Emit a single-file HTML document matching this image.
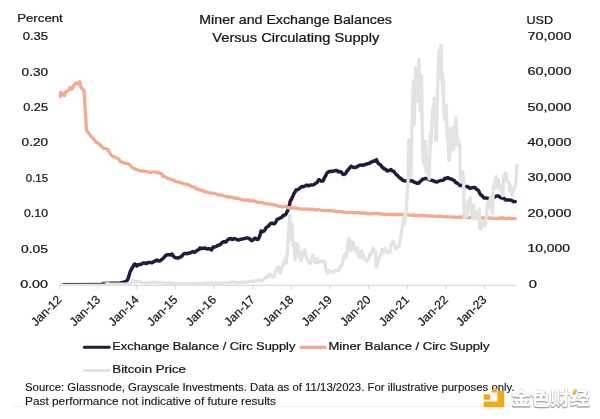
<!DOCTYPE html>
<html lang="en"><head><meta charset="utf-8"><title>Miner and Exchange Balances Versus Circulating Supply</title>
<style>html,body{margin:0;padding:0;background:#fff;}body{width:600px;height:419px;overflow:hidden;}svg{display:block;}text{font-family:"Liberation Sans",Arial,sans-serif;fill:#161616;stroke:#161616;stroke-width:0.24px;}.s{stroke-width:0.12px;}.x{stroke-width:0.2px;}.wm{font-family:"Liberation Sans","Noto Sans CJK SC",sans-serif;font-weight:bold;}</style></head><body>
<svg width="600" height="419" viewBox="0 0 600 419">
<rect width="600" height="419" fill="#ffffff"/>
<rect x="12" y="406.2" width="578" height="1" fill="#f2f2f2"/>
<g stroke="#d4d4d4" stroke-width="1" fill="none">
<line x1="59.5" y1="285.3" x2="516" y2="285.3"/>
<line x1="59.50" y1="285" x2="59.50" y2="289"/>
<line x1="98.14" y1="285" x2="98.14" y2="289"/>
<line x1="136.78" y1="285" x2="136.78" y2="289"/>
<line x1="175.42" y1="285" x2="175.42" y2="289"/>
<line x1="214.06" y1="285" x2="214.06" y2="289"/>
<line x1="252.70" y1="285" x2="252.70" y2="289"/>
<line x1="291.34" y1="285" x2="291.34" y2="289"/>
<line x1="329.98" y1="285" x2="329.98" y2="289"/>
<line x1="368.62" y1="285" x2="368.62" y2="289"/>
<line x1="407.26" y1="285" x2="407.26" y2="289"/>
<line x1="445.90" y1="285" x2="445.90" y2="289"/>
<line x1="484.54" y1="285" x2="484.54" y2="289"/>
</g>
<path d="M103.0,283.5 L112.0,283.2 L120.0,282.8 L125.0,282.0" fill="none" stroke="#221b3e" stroke-width="3.3" stroke-linejoin="round" stroke-linecap="round"/>
<path d="M125.0,282.0 L127.0,280.6 L128.4,278.0 L128.8,276.1 L129.2,275.1 L129.6,273.3 L130.0,272.0 L131.0,270.2 L132.0,268.0 L133.0,266.9 L134.0,264.6 L135.0,264.0 L137.0,266.0 L138.5,264.4 L140.0,264.4 L141.5,264.2 L143.0,263.0 L144.5,262.9 L146.0,263.6 L148.0,262.6 L150.0,262.4 L152.0,262.8 L154.0,261.6 L155.5,260.8 L157.0,260.0 L158.5,261.0 L160.0,261.0 L161.3,259.8 L162.7,258.9 L164.0,257.5 L165.5,255.6 L167.0,254.8 L168.7,254.7 L170.3,254.9 L172.0,254.0 L173.0,255.5 L174.0,257.0 L176.0,257.9 L178.0,258.0 L180.0,257.3 L182.0,256.0 L183.5,254.0 L185.0,253.4 L186.7,253.7 L188.3,253.3 L190.0,253.0 L191.5,252.3 L193.0,251.4 L194.5,252.4 L196.0,251.4 L197.3,250.2 L198.7,249.5 L200.0,248.0 L201.7,248.6 L203.3,248.3 L205.0,248.0 L207.0,249.0 L209.0,248.6 L211.6,250.0 L212.3,248.3 L213.0,247.0 L215.0,247.0 L217.0,246.0 L218.2,245.1 L219.5,245.0 L220.8,244.1 L222.0,242.6 L224.0,241.7 L226.0,242.0 L227.5,239.9 L229.0,239.0 L230.7,238.4 L232.3,239.5 L234.0,238.6 L235.7,239.0 L237.3,239.7 L239.0,240.0 L240.7,239.2 L242.3,239.1 L244.0,238.6 L246.0,238.1 L248.0,238.0 L249.3,238.6 L250.7,239.9 L252.0,240.6 L253.5,239.4 L255.0,238.0 L256.5,239.3 L258.0,239.4 L258.7,238.2 L259.3,237.2 L260.0,235.0 L260.5,233.6 L261.0,231.0 L262.5,231.8 L264.0,231.0 L265.0,229.9 L266.0,227.8 L267.0,227.0 L268.5,226.1 L270.0,224.0 L272.0,223.0 L274.0,224.0 L275.0,223.2 L276.0,221.6 L277.0,219.5 L278.5,218.9 L280.0,218.0 L281.7,217.3 L283.3,215.5 L285.0,215.0 L286.0,213.9 L287.0,211.8 L288.0,210.0 L288.4,208.1 L288.8,206.1 L289.2,205.8 L289.6,204.4 L290.0,202.0 L290.8,199.8 L291.5,199.5 L292.2,197.4 L293.0,196.0 L293.8,193.9 L294.5,192.7 L295.2,191.9 L296.0,190.0 L298.0,189.6 L300.0,188.0 L301.7,186.6 L303.3,186.8 L305.0,186.0 L306.8,185.0 L308.5,185.8 L310.2,185.0 L312.0,185.0 L314.0,184.6 L316.0,183.0 L317.0,182.6 L318.0,180.7 L319.0,179.6 L321.0,181.1 L323.0,181.0 L323.8,179.2 L324.5,177.3 L325.2,176.7 L326.0,175.0 L327.0,173.1 L328.0,172.2 L329.0,171.6 L330.7,171.3 L332.3,171.4 L334.0,171.0 L335.5,170.6 L337.0,170.6 L338.5,172.0 L340.0,171.6 L341.5,172.2 L342.9,174.2 L344.4,174.4 L345.6,173.6 L346.8,171.3 L348.0,170.0 L349.0,168.7 L350.0,167.6 L351.0,166.4 L353.0,167.2 L355.0,167.6 L356.7,166.9 L358.3,166.0 L360.0,165.0 L361.5,165.0 L363.0,165.4 L364.5,164.6 L366.0,164.4 L367.5,163.7 L369.0,163.6 L370.5,162.2 L372.0,162.0 L373.5,160.9 L374.9,161.2 L376.4,159.6 L377.2,161.3 L378.0,163.0 L379.3,164.4 L380.7,164.9 L382.0,167.0 L383.2,167.9 L384.5,169.1 L385.8,169.2 L387.0,171.0 L389.0,170.5 L391.0,169.6 L392.3,170.9 L393.7,171.2 L395.0,173.0 L396.2,174.5 L397.5,175.4 L398.8,177.0 L400.0,178.0 L401.5,179.0 L403.0,180.4 L404.8,180.9 L406.5,181.1 L408.2,180.1 L410.0,181.0 L412.0,180.8 L414.0,182.0 L415.7,182.6 L417.3,183.4 L419.0,183.0 L420.3,181.3 L421.7,180.3 L423.0,179.0 L424.5,178.8 L426.0,178.4 L428.0,178.9 L430.0,180.0 L431.5,180.3 L433.0,180.7 L434.5,181.3 L436.0,182.0 L437.5,181.8 L439.0,180.9 L440.5,180.6 L442.0,180.4 L443.5,180.1 L445.0,178.2 L446.5,178.4 L448.0,177.6 L449.7,178.8 L451.3,178.9 L453.0,180.0 L454.3,180.6 L455.7,182.5 L457.0,183.0 L458.5,183.9 L460.0,185.6 L461.5,185.3 L463.0,185.9 L464.5,186.5 L466.0,186.4 L468.0,186.8 L470.0,188.4 L471.7,187.8 L473.3,187.6 L475.0,187.6 L476.5,189.3 L478.0,190.0 L479.0,191.6 L480.0,193.9 L481.0,195.0 L482.5,196.0 L484.0,198.0 L486.0,197.9 L488.0,198.4 L489.5,198.4 L491.0,198.6 L492.5,197.7 L494.0,197.6 L495.5,196.4 L497.0,196.0 L498.7,196.1 L500.3,197.4 L502.0,198.0 L503.5,198.0 L505.0,199.5 L506.5,200.0 L508.0,200.0 L509.8,199.9 L511.6,200.4 L513.4,201.7 L515.2,201.6" fill="none" stroke="#221b3e" stroke-width="3.5" stroke-linejoin="round" stroke-linecap="round"/>
<path d="M60.5,96.5 L60.5,94.6 L60.5,92.5 L62.5,93.5 L64.5,95.8 L65.2,93.9 L66.0,91.5 L68.5,90.5 L70.0,87.5 L72.0,89.2 L73.0,87.4 L74.0,85.0 L76.0,82.8 L78.0,84.0 L79.8,81.8 L80.4,85.0 L81.0,87.5 L82.5,89.0 L84.0,90.2 L84.1,92.5 L84.3,94.8 L84.4,96.1 L84.6,98.6 L84.7,101.2 L84.9,103.0 L85.0,105.0 L85.1,107.5 L85.2,108.9 L85.4,111.3 L85.5,113.3 L85.6,115.7 L85.8,117.8 L85.9,119.4 L86.0,122.0 L86.1,123.7 L86.2,125.8 L86.4,128.4 L86.5,130.0 L87.7,131.9 L88.8,133.0 L90.0,135.0 L91.5,137.0 L93.0,138.2 L94.5,140.4 L96.0,142.0 L98.0,143.3 L100.0,144.9 L102.0,147.0 L104.0,148.3 L106.0,148.7 L108.0,150.0 L109.5,152.2 L111.0,155.0 L113.0,156.4 L115.0,157.3 L117.0,158.0 L118.7,159.3 L120.3,161.3 L122.0,162.4 L124.0,162.8 L126.0,163.4 L128.0,163.6 L130.0,165.0 L132.0,167.3 L134.0,168.6 L136.0,169.4 L138.0,170.2 L140.0,170.8 L142.0,171.0 L144.0,171.2 L146.0,171.7 L148.0,171.9 L150.0,172.6 L152.0,172.2 L154.0,172.1 L156.0,172.3 L158.0,172.4 L160.0,173.3 L162.0,174.0 L163.0,176.4 L165.3,176.8 L167.7,178.3 L170.0,179.0 L172.0,179.6 L174.0,180.3 L176.0,181.5 L178.0,182.0 L180.0,182.6 L182.0,183.0 L184.0,183.7 L186.0,184.5 L188.0,184.5 L190.0,185.5 L192.0,186.8 L194.0,186.9 L196.0,188.4 L198.0,189.4 L200.0,190.0 L202.0,190.2 L204.0,191.5 L206.0,191.7 L208.0,192.5 L210.0,193.0 L212.0,193.0 L214.0,193.4 L216.0,193.9 L218.0,195.0 L220.0,195.0 L222.0,195.1 L224.0,196.0 L226.0,196.6 L228.0,197.0 L230.0,196.9 L232.0,197.3 L234.0,197.8 L236.0,198.4 L238.0,198.2 L240.0,199.0 L242.0,199.6 L244.0,199.9 L246.0,200.3 L248.0,199.9 L250.0,201.1 L252.0,200.7 L254.0,201.2 L256.0,201.8 L258.0,202.4 L260.0,202.4 L262.0,202.6 L264.0,203.6 L266.0,203.6 L268.0,203.8 L270.0,204.2 L272.0,204.4 L274.0,204.8 L276.0,205.2 L278.0,206.1 L280.0,206.3 L282.0,207.0 L284.0,206.5 L286.0,206.7 L288.0,207.8 L290.0,207.6 L292.0,207.9 L294.0,208.0 L296.0,208.1 L298.0,208.6 L300.0,208.8 L302.0,209.2 L304.0,209.0 L306.0,209.1 L308.0,208.9 L310.0,209.8 L312.0,209.1 L314.0,209.6 L316.0,210.1 L318.0,209.5 L320.0,210.0 L322.0,210.4 L324.0,210.7 L326.0,210.6 L328.0,210.9 L330.0,210.4 L332.0,210.9 L334.0,210.8 L336.0,211.6 L338.0,211.3 L340.0,211.6 L342.0,211.7 L344.0,212.3 L346.0,212.3 L348.0,212.6 L350.0,212.3 L352.0,212.4 L354.0,212.8 L356.0,212.7 L358.0,212.7 L360.0,213.0 L362.0,213.0 L364.0,212.9 L366.0,213.2 L368.0,213.8 L370.0,213.9 L372.0,213.7 L374.0,213.7 L376.0,213.7 L378.0,213.5 L380.0,214.0 L382.0,213.8 L384.0,214.4 L386.0,214.5 L388.0,214.1 L390.0,214.5 L392.0,214.5 L394.0,214.5 L396.0,214.5 L398.0,214.7 L400.0,214.5 L402.0,214.5 L404.0,214.9 L406.0,214.6 L408.0,214.9 L410.0,215.2 L412.0,215.3 L414.0,215.0 L416.0,215.7 L418.0,215.5 L420.0,215.6 L422.0,215.2 L424.0,215.7 L426.0,215.6 L428.0,216.1 L430.0,216.0 L432.0,216.0 L434.0,216.4 L436.0,216.3 L438.0,216.5 L440.0,216.2 L442.0,216.5 L444.0,216.7 L446.0,216.8 L448.0,216.5 L450.0,217.0 L452.0,217.1 L454.0,217.0 L456.0,217.3 L458.0,217.3 L460.0,217.0 L462.0,217.1 L464.0,217.2 L466.0,216.9 L468.0,217.6 L470.0,217.7 L472.0,217.4 L474.0,217.6 L476.0,217.7 L478.0,217.8 L480.0,217.4 L482.0,218.0 L484.0,217.9 L486.0,218.0 L488.0,217.9 L490.0,218.0 L492.1,218.2 L494.2,218.3 L496.3,218.3 L498.4,218.4 L500.5,217.8 L502.6,218.0 L504.7,218.3 L506.8,218.5 L508.9,218.2 L511.0,218.7 L513.1,218.7 L515.2,218.6" fill="none" stroke="#f4a98f" stroke-width="3.3" stroke-linejoin="round" stroke-linecap="round"/>
<path d="M61.0,284.5 L75.5,284.5 L83.5,284.5 L98.0,284.5 L102.9,284.4 L108.5,283.7 L109.3,284.3 L117.7,284.3 L127.0,284.0 L131.3,283.3 L133.4,280.4 L135.3,282.6 L137.3,281.1 L142.6,282.6 L147.3,283.2 L152.8,282.2 L160.7,282.7 L166.1,283.3 L170.1,283.0 L175.3,283.4 L176.8,283.9 L182.6,283.5 L191.4,283.7 L200.3,283.8 L207.9,282.9 L208.7,283.4 L212.3,282.9 L215.5,283.2 L218.8,283.1 L228.8,282.9 L231.9,281.8 L236.7,282.6 L243.0,282.3 L247.7,282.0 L252.6,281.1 L253.1,280.6 L253.9,281.7 L258.9,280.1 L261.5,281.1 L267.9,275.6 L268.3,277.1 L269.7,274.0 L273.4,277.6 L276.6,269.3 L278.4,267.1 L279.9,273.2 L283.6,263.2 L285.6,258.3 L286.0,263.6 L287.7,249.1 L288.7,226.0 L289.0,233.1 L289.8,215.4 L290.3,236.7 L290.8,227.8 L291.1,239.9 L291.9,224.3 L293.0,245.5 L294.2,243.0 L295.2,260.1 L296.6,243.8 L297.2,250.5 L298.0,244.1 L299.4,256.9 L300.0,253.0 L300.9,260.4 L303.3,250.8 L304.5,249.8 L306.9,259.0 L308.6,261.8 L310.2,263.6 L312.9,255.4 L315.2,262.9 L317.4,258.6 L317.8,262.2 L321.2,261.1 L324.8,262.0 L326.1,271.0 L328.2,273.2 L329.1,270.2 L332.8,272.3 L335.6,270.3 L338.8,270.5 L339.6,267.1 L341.8,265.0 L344.0,256.2 L345.8,253.7 L346.3,257.2 L348.6,238.8 L349.1,248.0 L350.1,240.2 L350.8,250.8 L353.0,242.3 L355.4,250.8 L357.5,248.4 L358.4,255.8 L361.2,258.1 L361.6,250.8 L364.7,259.7 L367.0,260.9 L368.5,259.0 L370.4,253.0 L371.0,254.7 L373.2,248.0 L375.6,252.3 L376.1,267.1 L376.5,266.8 L378.8,259.0 L381.3,253.3 L382.2,249.4 L382.4,253.7 L384.9,248.4 L387.7,252.6 L390.2,251.9 L391.0,245.5 L393.3,240.9 L395.7,248.7 L399.0,245.9 L400.4,239.2 L402.0,229.6 L404.0,216.8 L404.4,223.9 L406.4,209.0 L407.4,191.0 L408.0,181.8 L408.8,140.0 L409.1,158.7 L409.4,145.6 L410.2,175.4 L410.8,176.8 L412.1,120.8 L413.5,80.8 L414.2,124.7 L415.6,67.7 L416.8,101.3 L417.7,74.1 L418.2,86.1 L418.9,59.5 L420.1,110.9 L421.0,81.8 L421.5,76.2 L421.9,109.1 L422.7,153.4 L422.8,140.7 L423.1,161.6 L424.3,145.6 L424.8,166.2 L425.4,141.0 L426.3,172.5 L427.0,157.3 L429.2,178.9 L430.3,135.0 L430.8,143.8 L432.8,109.1 L433.1,118.7 L434.3,98.1 L434.4,118.7 L435.6,113.4 L435.9,140.7 L436.6,139.2 L437.5,88.6 L439.0,50.7 L439.7,77.2 L441.0,45.4 L442.0,82.9 L442.3,73.0 L442.9,94.2 L443.2,79.7 L443.7,110.2 L445.1,120.8 L446.2,104.9 L446.6,120.5 L447.3,137.5 L447.9,129.0 L448.9,160.5 L450.2,153.4 L450.7,128.6 L452.4,148.8 L452.9,127.6 L453.6,149.9 L455.8,117.6 L457.3,144.6 L458.3,141.0 L459.4,148.1 L459.7,143.8 L460.3,177.2 L460.6,181.8 L462.6,171.8 L463.6,181.8 L464.0,204.8 L464.5,217.2 L465.3,210.1 L467.1,216.1 L467.9,202.3 L468.5,209.4 L468.8,200.2 L470.4,198.1 L471.0,210.5 L472.0,215.1 L473.0,217.9 L473.6,205.1 L474.5,219.0 L475.9,212.6 L477.6,217.2 L479.3,209.0 L479.7,228.2 L481.0,228.5 L483.4,221.4 L485.1,225.7 L486.6,214.0 L487.5,203.7 L488.7,201.2 L489.9,207.3 L490.6,196.6 L492.5,212.9 L493.3,187.4 L493.8,184.2 L494.3,188.5 L496.1,176.8 L497.3,187.1 L498.5,180.0 L499.2,189.6 L500.9,185.3 L502.7,195.6 L503.7,175.7 L505.8,172.9 L506.9,181.0 L509.4,182.8 L509.5,190.3 L510.7,186.4 L512.1,195.2 L514.0,189.2 L515.8,183.5 L516.6,167.6 L516.7,165.5 L517.1,167.6 L517.4,165.8" fill="none" stroke="#e3e3e3" stroke-width="3.4" stroke-linejoin="round" stroke-linecap="round"/>
<path d="M62.8,283.5 L105,283.3" fill="none" stroke="#4a4858" stroke-width="1"/>
<text x="295.6" y="23.8" font-size="12.1" text-anchor="middle" textLength="192.6" lengthAdjust="spacingAndGlyphs">Miner and Exchange Balances</text>
<text x="295.8" y="41.5" font-size="12.1" text-anchor="middle" textLength="167" lengthAdjust="spacingAndGlyphs">Versus Circulating Supply</text>
<text x="17.2" y="21.9" font-size="11" textLength="45.6" lengthAdjust="spacingAndGlyphs">Percent</text>
<text x="526.6" y="23.6" font-size="11" textLength="26.4" lengthAdjust="spacingAndGlyphs">USD</text>
<text x="48" y="40.20" font-size="10.8" text-anchor="end" textLength="25.3" lengthAdjust="spacingAndGlyphs">0.35</text>
<text x="48" y="75.63" font-size="10.8" text-anchor="end" textLength="26.4" lengthAdjust="spacingAndGlyphs">0.30</text>
<text x="48" y="111.06" font-size="10.8" text-anchor="end" textLength="24.8" lengthAdjust="spacingAndGlyphs">0.25</text>
<text x="48" y="146.49" font-size="10.8" text-anchor="end" textLength="26.4" lengthAdjust="spacingAndGlyphs">0.20</text>
<text x="48" y="181.91" font-size="10.8" text-anchor="end" textLength="22.2" lengthAdjust="spacingAndGlyphs">0.15</text>
<text x="48" y="217.34" font-size="10.8" text-anchor="end" textLength="24" lengthAdjust="spacingAndGlyphs">0.10</text>
<text x="48" y="252.77" font-size="10.8" text-anchor="end" textLength="27" lengthAdjust="spacingAndGlyphs">0.05</text>
<text x="48" y="288.20" font-size="10.8" text-anchor="end" textLength="27.8" lengthAdjust="spacingAndGlyphs">0.00</text>
<text x="527.5" y="39.60" font-size="11" textLength="44" lengthAdjust="spacingAndGlyphs">70,000</text>
<text x="527.5" y="75.06" font-size="11" textLength="44" lengthAdjust="spacingAndGlyphs">60,000</text>
<text x="527.5" y="110.52" font-size="11" textLength="44" lengthAdjust="spacingAndGlyphs">50,000</text>
<text x="527.5" y="145.98" font-size="11" textLength="44" lengthAdjust="spacingAndGlyphs">40,000</text>
<text x="527.5" y="181.44" font-size="11" textLength="44" lengthAdjust="spacingAndGlyphs">30,000</text>
<text x="527.5" y="216.90" font-size="11" textLength="44" lengthAdjust="spacingAndGlyphs">20,000</text>
<text x="527.5" y="252.36" font-size="11" textLength="42.4" lengthAdjust="spacingAndGlyphs">10,000</text>
<text x="528.7" y="287.82" font-size="11" textLength="8.2" lengthAdjust="spacingAndGlyphs">0</text>
<text class="x" transform="translate(62.40,300.3) rotate(-45)" font-size="12" text-anchor="end" textLength="37.5" lengthAdjust="spacingAndGlyphs">Jan-12</text>
<text class="x" transform="translate(101.04,300.3) rotate(-45)" font-size="12" text-anchor="end" textLength="37.5" lengthAdjust="spacingAndGlyphs">Jan-13</text>
<text class="x" transform="translate(139.68,300.3) rotate(-45)" font-size="12" text-anchor="end" textLength="37.5" lengthAdjust="spacingAndGlyphs">Jan-14</text>
<text class="x" transform="translate(178.32,300.3) rotate(-45)" font-size="12" text-anchor="end" textLength="37.5" lengthAdjust="spacingAndGlyphs">Jan-15</text>
<text class="x" transform="translate(216.96,300.3) rotate(-45)" font-size="12" text-anchor="end" textLength="37.5" lengthAdjust="spacingAndGlyphs">Jan-16</text>
<text class="x" transform="translate(255.60,300.3) rotate(-45)" font-size="12" text-anchor="end" textLength="37.5" lengthAdjust="spacingAndGlyphs">Jan-17</text>
<text class="x" transform="translate(294.24,300.3) rotate(-45)" font-size="12" text-anchor="end" textLength="37.5" lengthAdjust="spacingAndGlyphs">Jan-18</text>
<text class="x" transform="translate(332.88,300.3) rotate(-45)" font-size="12" text-anchor="end" textLength="37.5" lengthAdjust="spacingAndGlyphs">Jan-19</text>
<text class="x" transform="translate(371.52,300.3) rotate(-45)" font-size="12" text-anchor="end" textLength="37.5" lengthAdjust="spacingAndGlyphs">Jan-20</text>
<text class="x" transform="translate(410.16,300.3) rotate(-45)" font-size="12" text-anchor="end" textLength="37.5" lengthAdjust="spacingAndGlyphs">Jan-21</text>
<text class="x" transform="translate(448.80,300.3) rotate(-45)" font-size="12" text-anchor="end" textLength="37.5" lengthAdjust="spacingAndGlyphs">Jan-22</text>
<text class="x" transform="translate(487.44,300.3) rotate(-45)" font-size="12" text-anchor="end" textLength="37.5" lengthAdjust="spacingAndGlyphs">Jan-23</text>
<line x1="84.4" y1="347.3" x2="109.2" y2="347.3" stroke="#221b3e" stroke-width="3.1" stroke-linecap="round"/>
<text x="112.3" y="349.9" font-size="10.8" textLength="183" lengthAdjust="spacingAndGlyphs">Exchange Balance / Circ Supply</text>
<line x1="301" y1="347.4" x2="325.2" y2="347.4" stroke="#f4a98f" stroke-width="3.1" stroke-linecap="round"/>
<text x="328.5" y="349.9" font-size="10.8" textLength="161" lengthAdjust="spacingAndGlyphs">Miner Balance / Circ Supply</text>
<line x1="84.4" y1="370.5" x2="109.2" y2="370.5" stroke="#e3e3e3" stroke-width="3.1" stroke-linecap="round"/>
<text x="112.3" y="373" font-size="10.8" textLength="73.6" lengthAdjust="spacingAndGlyphs">Bitcoin Price</text>
<text class="s" x="25" y="390.9" font-size="10" textLength="489.6" lengthAdjust="spacingAndGlyphs">Source: Glassnode, Grayscale Investments. Data as of 11/13/2023. For illustrative purposes only.</text>
<text class="s" x="25" y="404.7" font-size="10" textLength="251" lengthAdjust="spacingAndGlyphs">Past performance not indicative of future results</text>
<g>
<path d="M498.2,391 h5.2 a0.8,0.8 0 0 1 0.8,0.8 v14.6 a0.8,0.8 0 0 1 -0.8,0.8 h-19 a0.8,0.8 0 0 1 -0.8,-0.8 v-4 a0.8,0.8 0 0 1 0.8,-0.8 h12.2 a0.8,0.8 0 0 0 0.8,-0.8 v-9 a0.8,0.8 0 0 1 0.8,-0.8 z" fill="#f6a81b"/>
<rect x="483.6" y="394.3" width="6.6" height="5.4" rx="0.9" fill="#f6a81b"/>
<path d="M491.4,391.9 a5.2,4 0 0 1 5.2,-3.7 a0.6,0.6 0 0 1 0.6,0.6 v3.1 a0.6,0.6 0 0 1 -0.6,0.6 h-4.6 a0.6,0.6 0 0 1 -0.6,-0.6 z" fill="#f6a81b"/>
<text class="wm" x="511.4" y="405.2" font-size="18.6" textLength="78.2" lengthAdjust="spacingAndGlyphs" style="font-weight:700;fill:#ffffff;stroke:#d2d2d2;stroke-width:0.7px;paint-order:stroke;filter:drop-shadow(0.8px 1px 0.6px rgba(100,100,100,0.7));">金色财经</text>
<path d="M572.3,394.6 l2.3,-5.2 l2.5,0.7 l-2.2,5 z" fill="#f6a81b"/>
</g>
</svg></body></html>
